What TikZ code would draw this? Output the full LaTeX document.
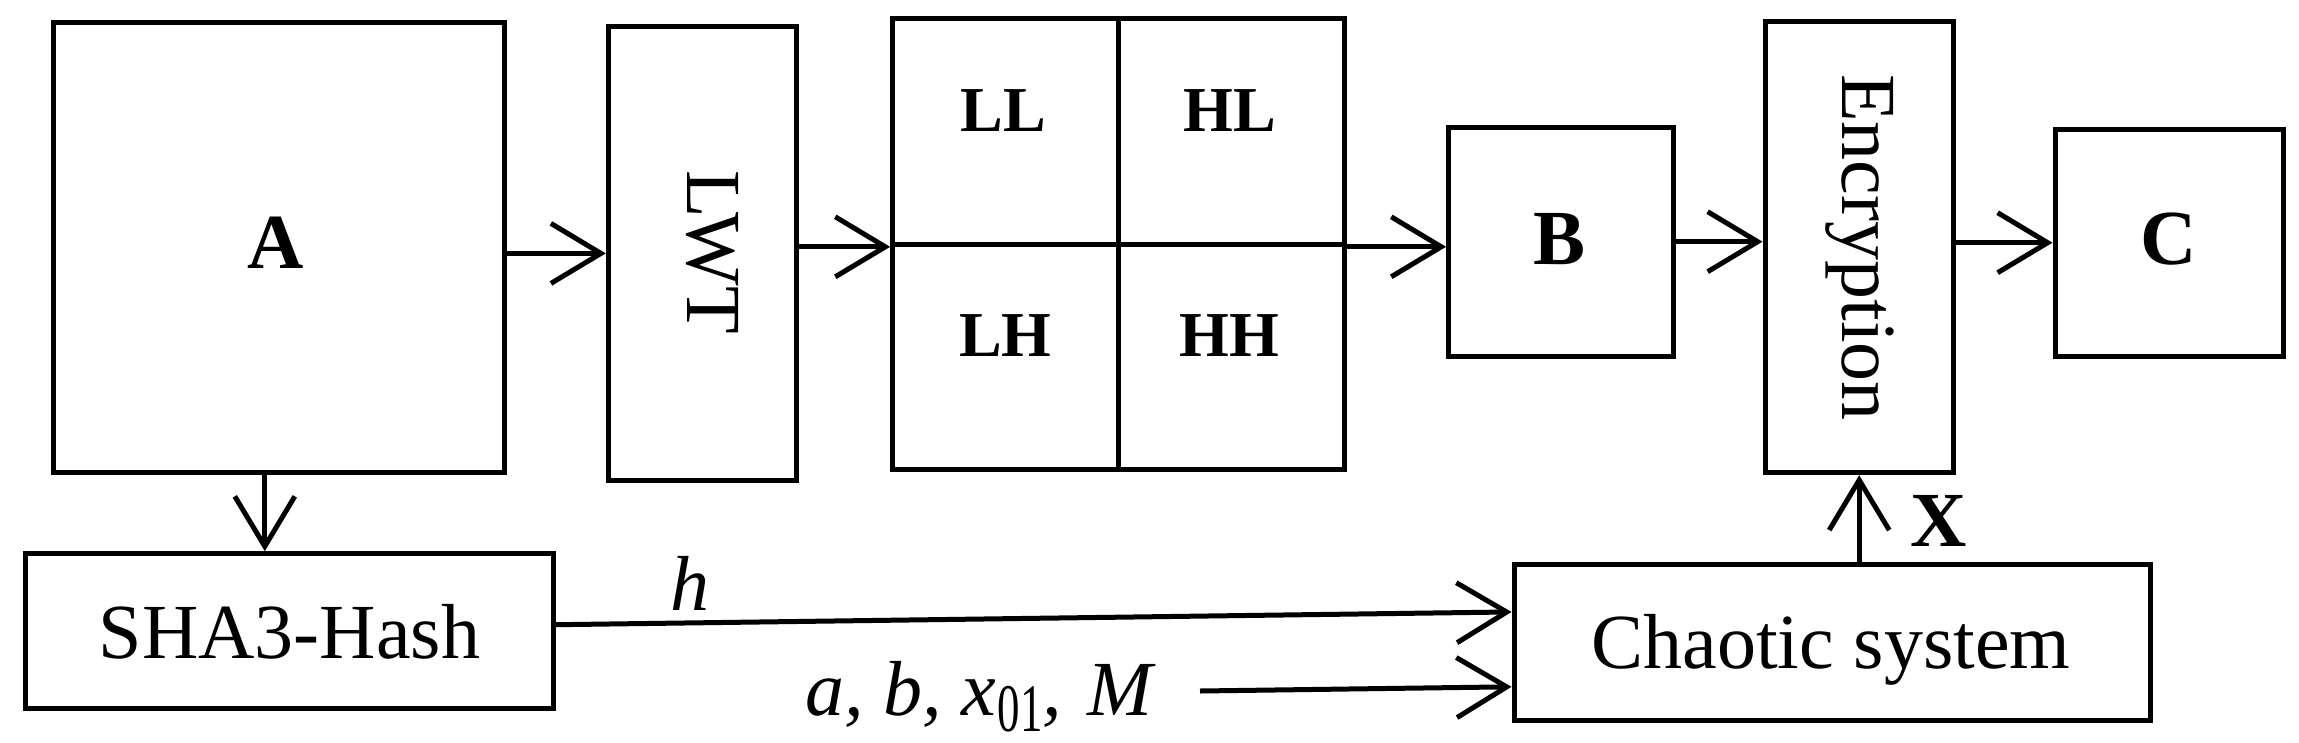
\documentclass[tikz,border=0pt]{standalone}
\usepackage{fontspec}
\setmainfont{Liberation Serif}
\usetikzlibrary{arrows.meta,calc}
\begin{document}
\begin{tikzpicture}[x=1pt,y=-1pt,
  box/.style={draw,line width=5pt,rectangle,inner sep=0pt},
  txt/.style={inner sep=0pt,font=\fontsize{78}{90}\selectfont},
  btxt/.style={inner sep=0pt,font=\fontsize{78}{90}\selectfont\bfseries},
  qtxt/.style={inner sep=0pt,font=\fontsize{64}{76}\selectfont\bfseries},
  arr/.style={line width=5pt,-{Straight Barb[length=50pt,width=60pt]}}]
\useasboundingbox (0,0) rectangle (2299,742);
% boxes
\node[box,minimum width=451pt,minimum height=450.5pt] (A) at (278.5,247.7) {};
\node[box,minimum width=188.4pt,minimum height=453.3pt] (LWT) at (702.5,253.4) {};
\node[box,minimum width=225.7pt,minimum height=226pt] (LL) at (1005.5,131.3) {};
\node[box,minimum width=225.7pt,minimum height=225pt] (LH) at (1005.5,356.8) {};
\node[box,minimum width=225.7pt,minimum height=226pt] (HL) at (1231.2,131.3) {};
\node[box,minimum width=225.7pt,minimum height=225pt] (HH) at (1231.2,356.8) {};
\node[box,minimum width=224.8pt,minimum height=228.7pt] (B) at (1561,241.7) {};
\node[box,minimum width=188.3pt,minimum height=451pt] (Enc) at (1859.2,247.2) {};
\node[box,minimum width=228pt,minimum height=226.7pt] (C) at (2169,242.7) {};
\node[box,minimum width=528.3pt,minimum height=154.8pt] (SHA) at (289.2,631.1) {};
\node[box,minimum width=636.7pt,minimum height=155.3pt] (Ch) at (1832.4,642.4) {};
% texts
\node[btxt,anchor=base] (tA) at (276,268) {A};
\node[txt,anchor=base,rotate=-90] (tLWT) at (687.3,252.5) {LWT};
\node[qtxt,anchor=base] (tLL) at (1003.3,131.7) {LL};
\node[qtxt,anchor=base] (tLH) at (1005.3,356.7) {LH};
\node[qtxt,anchor=base] (tHL) at (1230,131.7) {HL};
\node[qtxt,anchor=base] (tHH) at (1229.6,356.7) {HH};
\node[btxt,anchor=base] (tB) at (1559,264) {B};
\node[txt,anchor=base,rotate=-90] (tEnc) at (1842.7,247.5) {Encryption};
\node[btxt,anchor=base] (tC) at (2169,264) {C};
\node[txt,anchor=base] (tSHA) at (289.5,658.7) {SHA3-Hash};
\node[txt,anchor=base] (tCh) at (1831,668.7) {Chaotic system};
\node[btxt,anchor=base] (tX) at (1939,546) {X};
\node[txt,anchor=base] (th) at (690,610) {\itshape h};
\node[txt,anchor=base west] (tabc) at (805,715) {\itshape a, b, x\kern2pt\raisebox{-16pt}{\scalebox{0.66}[1]{\upshape\fontsize{68}{70}\selectfont 01}}, \kern6pt M};
% connectors
\coordinate (pin) at (1200,691);
\draw[arr] (A.east |- LWT.west) -- (LWT.west);
\draw[arr] (LWT.east |- LL.south west) -- (LL.south west);
\draw[arr] (HL.south east) -- (HL.south east -| B.west);
\draw[arr] (B.east) -- (B.east -| Enc.west);
\draw[arr] (C.west -| Enc.east) -- (C.west);
\coordinate (As) at ($(A.south west)!0.47!(A.south east)$);
\draw[arr] (As) -- (As |- SHA.north);
\draw[arr] ($(SHA.north east)!0.46!(SHA.south east)$) -- ($(Ch.north west)!0.31!(Ch.south west)$);
\draw[arr] (pin) -- ($(Ch.north west)!0.777!(Ch.south west)$);
\draw[arr] (Enc.south |- Ch.north) -- (Enc.south);
\end{tikzpicture}
\end{document}
